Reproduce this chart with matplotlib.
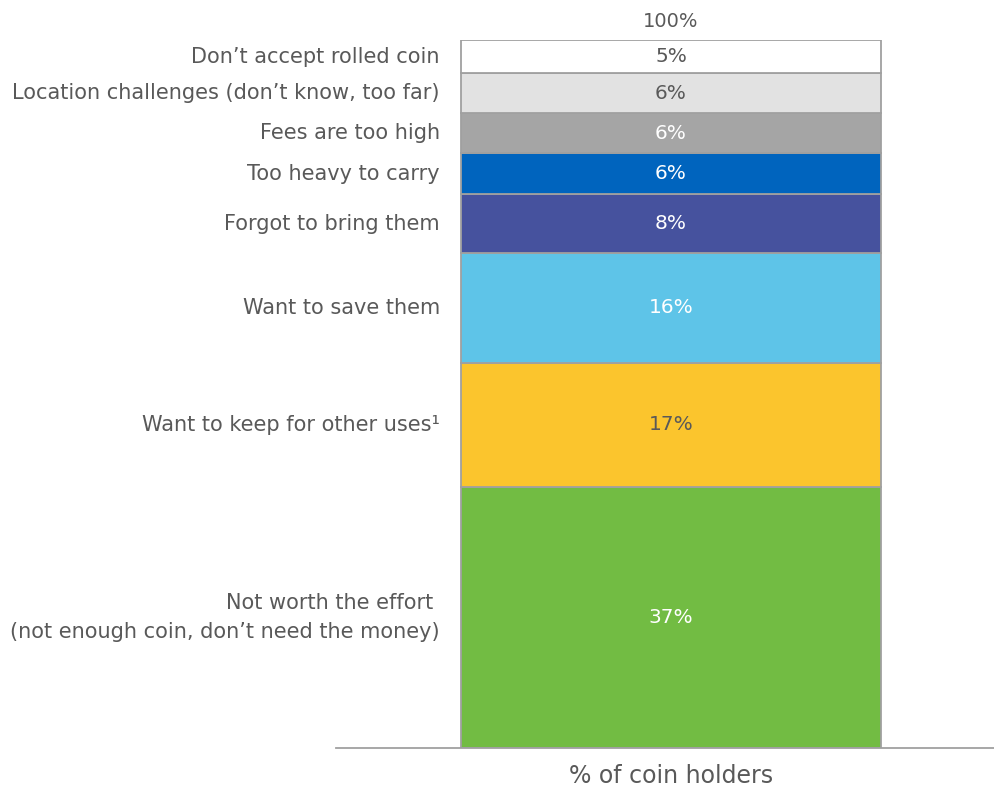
import matplotlib
matplotlib.use("Agg")
import matplotlib.pyplot as plt

# Data (bottom to top)
categories = [
    "Not worth the effort \n(not enough coin, don\u2019t need the money)",
    "Want to keep for other uses\u00b9",
    "Want to save them",
    "Forgot to bring them",
    "Too heavy to carry",
    "Fees are too high",
    "Location challenges (don\u2019t know, too far)",
    "Don\u2019t accept rolled coin",
]
values = [36.9, 17.5, 15.5, 8.3, 5.8, 5.65, 5.65, 4.7]
value_labels = ["37%", "17%", "16%", "8%", "6%", "6%", "6%", "5%"]
total_label = "100%"
axis_label = "% of coin holders"

colors = ["#72BC43", "#FBC52D", "#5EC4E8", "#46529E", "#0064BE", "#A5A5A5", "#E2E2E2", "#FFFFFF"]
text_colors = ["white", "#595959", "white", "white", "white", "white", "#595959", "#595959"]

plt.rcParams['font.family'] = ['DejaVu Sans']

fig = plt.figure(figsize=(9.95, 7.88), dpi=100)
W, H = 995, 788
ax = fig.add_axes([336 / W, (H - 748) / H, (995 - 336) / W, (748 - 40) / H])
ax.set_xlim(0, 659)
ax.set_ylim(0, sum(values))

bar_left, bar_w = 125, 420
bottom = 0
for cat, v, lab, c, tc in zip(categories, values, value_labels, colors, text_colors):
    ax.bar(bar_left, v, width=bar_w, bottom=bottom, align='edge', color=c,
           edgecolor="#A0A0A0", linewidth=1.3, zorder=2)
    mid = bottom + v / 2
    ax.text(bar_left + bar_w / 2, mid, lab, ha='center', va='center',
            color=tc, fontsize=14.5, zorder=3)
    ax.text(104, mid, cat, ha='right', va='center', color="#595959",
            fontsize=15, multialignment='right', linespacing=1.55,
            clip_on=False)
    bottom += v

ax.text(bar_left + bar_w / 2, sum(values) + 1.3, total_label, ha='center',
        va='bottom', color="#595959", fontsize=14, clip_on=False)

for s in ['top', 'right', 'left']:
    ax.spines[s].set_visible(False)
ax.spines['bottom'].set_color("#A0A0A0")
ax.spines['bottom'].set_linewidth(1.3)
ax.set_xticks([])
ax.set_yticks([])

fig.text((336 + bar_left + bar_w / 2) / W, 1 - 776 / H, axis_label,
         ha='center', va='center', color="#595959", fontsize=17)

fig.savefig("out.png", dpi=100)
